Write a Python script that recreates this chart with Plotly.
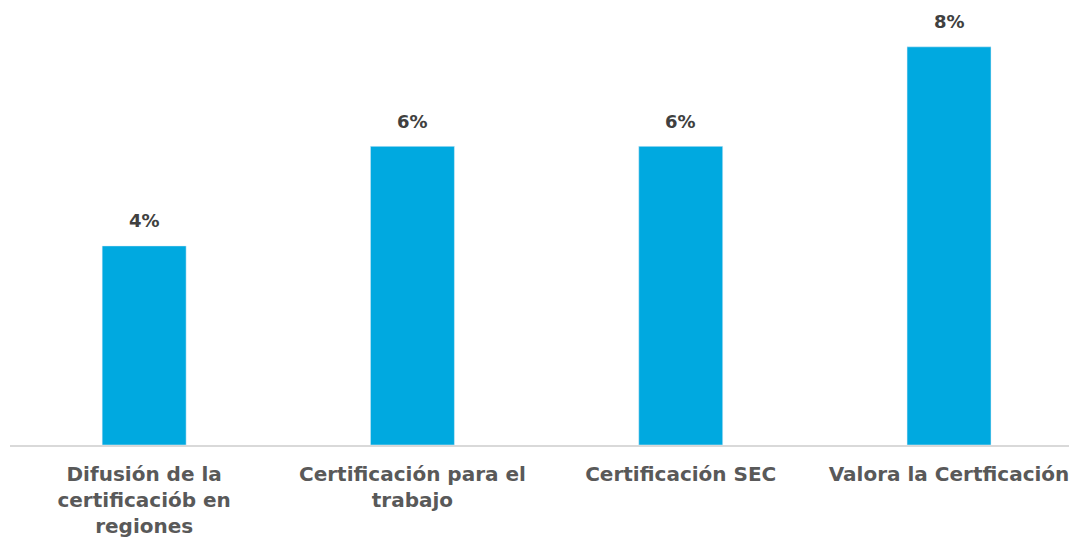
import plotly.graph_objects as go

categories = ["Difusión de la<br>certificaciób en<br>regiones",
              "Certificación para el<br>trabajo",
              "Certificación SEC",
              "Valora la Certficación"]
values = [4, 6, 6, 8]
labels = ["4%", "6%", "6%", "8%"]

fig = go.Figure(go.Bar(x=categories, y=values, marker_color="#00A9E0",
                       width=0.313, hoverinfo="skip"))
for c, v, t in zip(categories, values, labels):
    fig.add_annotation(x=c, y=v, text="<b>%s</b>" % t, showarrow=False,
                       yshift=25, font=dict(family="DejaVu Sans", size=18, color="#404040"))

fig.update_layout(
    width=1069, height=536, margin=dict(l=2, r=0, t=0, b=99),
    plot_bgcolor="white", paper_bgcolor="white", showlegend=False,
    font=dict(family="DejaVu Sans", size=20, color="#595959"),
)
fig.update_xaxes(range=[-0.5, 3.477], showline=True, linecolor="#D9D9D9", linewidth=1.5,
                 automargin=False, ticks="", ticklabelstandoff=10,
                 tickfont=dict(family="DejaVu Sans", size=20, color="#595959", weight="bold"))
fig.update_yaxes(range=[0, 8.78], visible=False, showgrid=False, automargin=False)
fig.write_html("out.html")
